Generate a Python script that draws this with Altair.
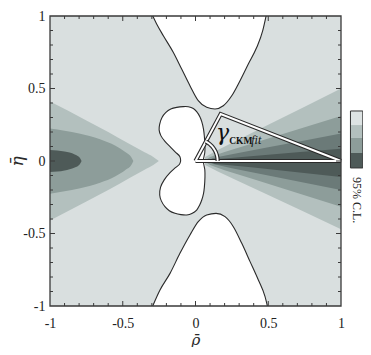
import altair as alt
import pandas as pd
import numpy as np

W, H = 291, 290
SERIF = "Liberation Serif"

BG = "#d9dfdf"
C2 = "#b3c0be"
C3 = "#8d9d9a"
C4 = "#6b7a78"
C5 = "#4e5a58"
INK = "#2a2a2a"

# ---- left fan (symmetric about eta = 0): rho and half-width ----
left_c2_rho = [-1.0, -0.75, -0.6, -0.45, -0.35, -0.29, -0.252]
left_c2_eta = [0.41, 0.28, 0.20, 0.115, 0.06, 0.028, 0.0]
left_c3_rho = [-1.0, -0.8, -0.656, -0.55, -0.48, -0.44, -0.427]
left_c3_eta = [0.225, 0.19, 0.15, 0.105, 0.06, 0.025, 0.0]
left_c5_rho = [-1.0, -0.9, -0.83, -0.795, -0.783]
left_c5_eta = [0.076, 0.065, 0.045, 0.022, 0.0]

# ---- right fan: rho, upper and lower edges ----
right_c2_rho = [0.03, 0.07, 0.15, 0.3, 0.5, 0.75, 1.0]
right_c2_hi = [0.0, 0.03, 0.075, 0.15, 0.25, 0.375, 0.50]
right_c2_lo = [0.0, -0.03, -0.07, -0.141, -0.235, -0.352, -0.47]
right_c3_rho = [0.06, 0.1, 0.2, 0.4, 0.7, 1.0]
right_c3_hi = [0.0, 0.028, 0.062, 0.124, 0.217, 0.31]
right_c3_lo = [0.0, -0.028, -0.063, -0.126, -0.22, -0.315]
right_c4_rho = [0.08, 0.12, 0.25, 0.5, 0.75, 1.0]
right_c4_hi = [0.0, 0.02, 0.047, 0.095, 0.142, 0.19]
right_c4_lo = [0.0, -0.02, -0.05, -0.10, -0.15, -0.20]
right_c5_rho = [0.1, 0.13, 0.2, 0.4, 0.7, 1.0]
right_c5_hi = [0.0, 0.012, 0.017, 0.034, 0.06, 0.085]
right_c5_lo = [0.0, -0.02, -0.026, -0.044, -0.077, -0.11]

# ---- excluded (white) regions ----
top_rho = [-0.294, -0.267, -0.221, -0.153, -0.095, -0.038, 0.019, 0.077, 0.134,
           0.191, 0.249, 0.306, 0.363, 0.421, 0.462, 0.485]
top_eta = [1.0, 0.945, 0.864, 0.750, 0.634, 0.519, 0.416, 0.370, 0.359,
           0.381, 0.450, 0.554, 0.669, 0.784, 0.899, 1.0]
bot_rho = [-0.294, -0.244, -0.175, -0.107, -0.038, 0.019, 0.077, 0.141, 0.203,
           0.260, 0.318, 0.375, 0.432, 0.478, 0.494]
bot_eta = [-1.0, -0.890, -0.775, -0.637, -0.510, -0.418, -0.372, -0.361, -0.384,
           -0.453, -0.568, -0.694, -0.821, -0.936, -1.0]

# peanut outline (closed, in drawing order)
pea_rho = [-0.102, -0.107, -0.140, -0.175, -0.210, -0.238, -0.250, -0.246, -0.230,
           -0.205, -0.170, -0.129, -0.085, -0.049, -0.015, 0.008, 0.030, 0.043,
           0.055, 0.061, 0.065, 0.064, 0.054, 0.064, 0.065, 0.061, 0.055, 0.043,
           0.028, 0.008, -0.025, -0.060, -0.100, -0.141, -0.180, -0.210, -0.235,
           -0.246, -0.240, -0.215, -0.175, -0.140, -0.110, -0.102]
pea_eta = [0.0, 0.030, 0.063, 0.099, 0.135, 0.175, 0.215, 0.255, 0.300,
           0.333, 0.358, 0.370, 0.375, 0.374, 0.362, 0.340, 0.305, 0.271,
           0.220, 0.168, 0.110, 0.060, 0.0, -0.060, -0.110, -0.180, -0.225, -0.269,
           -0.305, -0.338, -0.362, -0.372, -0.370, -0.361, -0.343, -0.315, -0.275,
           -0.234, -0.180, -0.130, -0.080, -0.048, -0.022, 0.0]
# peanut fill pieces
pul_rho = [-0.250, -0.238, -0.210, -0.175, -0.140, -0.107, -0.100]
pul_hi = [0.215, 0.28, 0.328, 0.355, 0.366, 0.371, 0.372]
pul_lo = [0.215, 0.175, 0.135, 0.099, 0.063, 0.030, 0.0]
pll_rho = [-0.246, -0.240, -0.215, -0.175, -0.140, -0.110, -0.100]
pll_hi = [-0.234, -0.180, -0.130, -0.080, -0.048, -0.022, 0.0]
pll_lo = [-0.234, -0.275, -0.31, -0.345, -0.360, -0.368, -0.369]
pr_rho = [-0.104, -0.085, -0.049, -0.015, 0.008, 0.030, 0.043, 0.055, 0.061, 0.065]
pr_hi = [0.372, 0.375, 0.374, 0.362, 0.340, 0.305, 0.271, 0.220, 0.168, 0.110]
pr_lo = [-0.369, -0.371, -0.370, -0.356, -0.338, -0.300, -0.269, -0.225, -0.180, -0.110]

# gamma triangle
tri_rho = [0.0, 0.173, 1.0, 0.0]
tri_eta = [0.0, 0.324, 0.0, 0.0]
arc_radius = 0.152

# ticks
minor_ticks = [-0.9, -0.8, -0.7, -0.6, -0.4, -0.3, -0.2, -0.1,
               0.1, 0.2, 0.3, 0.4, 0.6, 0.7, 0.8, 0.9]
major_ticks = [-0.5, 0.0, 0.5]
label_vals = [-1, -0.5, 0, 0.5, 1]

# colour bar (discrete, 95% C.L.)
cb_x0, cb_x1 = 1.065, 1.15
cb_top = [0.345, 0.248, 0.159, 0.055]
cb_bot = [0.248, 0.159, 0.055, -0.048]
cb_col = ["#dde3e3", C2, C3, C5]

xs = alt.Scale(domain=[-1, 1], nice=False, zero=False)
ys = alt.Scale(domain=[-1, 1], nice=False, zero=False)
xaxis = alt.Axis(values=label_vals, labelExpr="toString(datum.value)", title="\u03c1\u0304",
                 labelFont=SERIF, labelFontSize=14, labelColor="#222",
                 titleFont="DejaVu Serif", titleFontStyle="italic", titleFontWeight="normal",
                 titleFontSize=15, titleColor=INK, titleX=145.5, titleY=33,
                 titleBaseline="middle", titleAlign="center", labelPadding=10,
                 labelFlush=False, domain=False, ticks=False, tickSize=0, grid=False)
yaxis = alt.Axis(values=label_vals, labelExpr="toString(datum.value)", title="\u03b7\u0304",
                 labelFont=SERIF, labelFontSize=14, labelColor="#222",
                 titleFont="DejaVu Serif", titleFontStyle="italic", titleFontWeight="normal",
                 titleFontSize=17, titleColor=INK, titleX=-33, titleY=145,
                 titleBaseline="middle", titleAlign="center", labelPadding=5,
                 labelFlush=False, domain=False, ticks=False, tickSize=0, grid=False)


def X(f="rho"):
    return alt.X(f + ":Q", scale=xs, axis=xaxis)


def Y(f="eta"):
    return alt.Y(f + ":Q", scale=ys, axis=yaxis)


def band(rho, lo, hi, color, interp="monotone"):
    df = pd.DataFrame({"rho": rho, "lo": lo, "hi": hi})
    return alt.Chart(df).mark_area(color=color, opacity=1, interpolate=interp).encode(
        x=X(), y=Y("lo"), y2="hi")


layers = []
for r, e, c in [(left_c2_rho, left_c2_eta, C2), (left_c3_rho, left_c3_eta, C3),
                (left_c5_rho, left_c5_eta, C5)]:
    layers.append(band(r, [-v for v in e], e, c))
for r, lo, hi, c in [(right_c2_rho, right_c2_lo, right_c2_hi, C2),
                     (right_c3_rho, right_c3_lo, right_c3_hi, C3),
                     (right_c4_rho, right_c4_lo, right_c4_hi, C4),
                     (right_c5_rho, right_c5_lo, right_c5_hi, C5)]:
    layers.append(band(r, lo, hi, c, "linear"))

# white regions
layers.append(band(top_rho, top_eta, [1.0] * len(top_rho), "white"))
layers.append(band(bot_rho, [-1.0] * len(bot_rho), bot_eta, "white"))
layers.append(band(pul_rho, pul_lo, pul_hi, "white"))
layers.append(band(pll_rho, pll_lo, pll_hi, "white"))
layers.append(band(pr_rho, pr_lo, pr_hi, "white"))

# outlines
for r, e, interp in [(top_rho, top_eta, "monotone"), (bot_rho, bot_eta, "monotone"),
                     (pea_rho, pea_eta, "catmull-rom")]:
    df = pd.DataFrame({"rho": r, "eta": e, "i": range(len(r))})
    layers.append(alt.Chart(df).mark_line(color=INK, strokeWidth=1.1, interpolate=interp).encode(
        x=X(), y=Y(), order="i:Q"))

# triangle and angle arc: double lines
tri_df = pd.DataFrame({"rho": tri_rho, "eta": tri_eta, "i": range(len(tri_rho))})
ang = np.linspace(0, np.arctan2(tri_eta[1], tri_rho[1]), 24)
arc_df = pd.DataFrame({"rho": arc_radius * np.cos(ang), "eta": arc_radius * np.sin(ang),
                       "i": range(len(ang))})
for df in [tri_df, arc_df]:
    layers.append(alt.Chart(df).mark_line(color=INK, strokeWidth=4.2, strokeJoin="miter").encode(
        x=X(), y=Y(), order="i:Q"))
    layers.append(alt.Chart(df).mark_line(color="white", strokeWidth=1.9, strokeJoin="miter").encode(
        x=X(), y=Y(), order="i:Q"))

# labels inside plot
lab = pd.DataFrame({"rho": [0.186], "eta": [0.145], "t": ["\u03b3"]})
layers.append(alt.Chart(lab).mark_text(font="DejaVu Serif", fontSize=22, fontStyle="italic",
                                       color="#111", align="center", baseline="alphabetic").encode(
    x=X(), y=Y(), text="t:N"))
lab2 = pd.DataFrame({"rho": [0.232], "eta": [0.117], "t": ["CKM"]})
layers.append(alt.Chart(lab2).mark_text(font=SERIF, fontSize=9.5, fontWeight="bold", color="#111",
                                        align="left", baseline="alphabetic").encode(
    x=X(), y=Y(), text="t:N"))
lab3 = pd.DataFrame({"rho": [0.383], "eta": [0.117], "t": ["fit"]})
layers.append(alt.Chart(lab3).mark_text(font=SERIF, fontSize=12, fontStyle="italic", color="#111",
                                        align="left", baseline="alphabetic").encode(
    x=X(), y=Y(), text="t:N"))

# frame
fr = pd.DataFrame({"rho": [-1.0], "r2": [1.0], "eta": [-1.0], "e2": [1.0]})
layers.append(alt.Chart(fr).mark_rect(filled=False, stroke="#3a3a3a", strokeWidth=1.3).encode(
    x=X(), x2="r2", y=Y(), y2="e2"))

# inward ticks on all four sides
for vals, ln in [(minor_ticks, 3), (major_ticks, 5)]:
    tdf = pd.DataFrame({"rho": vals, "eta": vals})
    layers.append(alt.Chart(tdf).mark_rule(color="#3a3a3a", strokeWidth=1).encode(
        x=X(), y=alt.value(H), y2=alt.value(H - ln)))
    layers.append(alt.Chart(tdf).mark_rule(color="#3a3a3a", strokeWidth=1).encode(
        x=X(), y=alt.value(0), y2=alt.value(ln)))
    layers.append(alt.Chart(tdf).mark_rule(color="#3a3a3a", strokeWidth=1).encode(
        y=Y(), x=alt.value(0), x2=alt.value(ln)))
    layers.append(alt.Chart(tdf).mark_rule(color="#3a3a3a", strokeWidth=1).encode(
        y=Y(), x=alt.value(W), x2=alt.value(W - ln)))

# colour bar
cb = pd.DataFrame({"rho": [cb_x0] * 4, "r2": [cb_x1] * 4, "eta": cb_bot, "e2": cb_top, "c": cb_col})
layers.append(alt.Chart(cb).mark_rect().encode(
    x=X(), x2="r2", y=Y(), y2="e2", color=alt.Color("c:N", scale=None)))
cbf = pd.DataFrame({"rho": [cb_x0], "r2": [cb_x1], "eta": [cb_bot[-1]], "e2": [cb_top[0]]})
layers.append(alt.Chart(cbf).mark_rect(filled=False, stroke="#333", strokeWidth=1).encode(
    x=X(), x2="r2", y=Y(), y2="e2"))
cbt = pd.DataFrame({"rho": [(cb_x0 + cb_x1) / 2], "eta": [-0.27], "t": ["95% C.L."]})
layers.append(alt.Chart(cbt).mark_text(font=SERIF, fontSize=12, angle=90, color="#222",
                                       align="center", baseline="middle").encode(
    x=X(), y=Y(), text="t:N"))

chart = alt.layer(*layers).properties(
    width=W, height=H,
    padding={"left": 42, "top": 8, "right": 22, "bottom": 41},
    autosize=alt.AutoSizeParams(type="none"),
).configure_view(fill=BG, stroke=None)

chart.save("out.html", embed_options={"renderer": "svg", "actions": False})
